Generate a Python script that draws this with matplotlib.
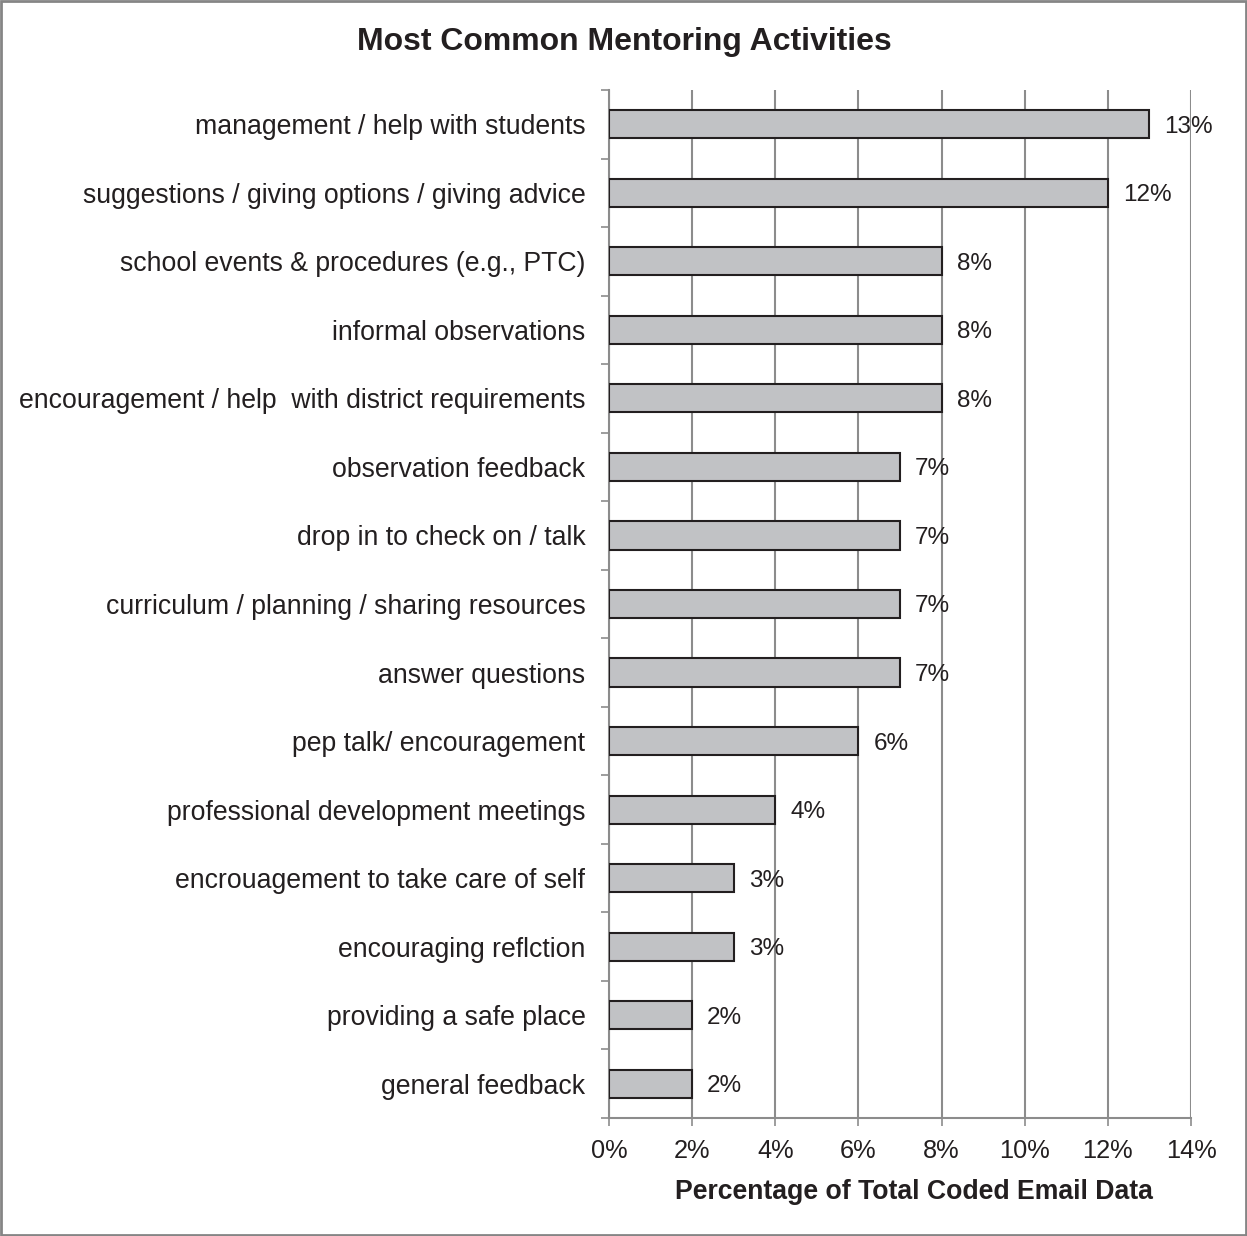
import matplotlib
matplotlib.use("Agg")
import matplotlib.pyplot as plt
from matplotlib.patches import Rectangle
from matplotlib.ticker import FixedLocator, PercentFormatter
import numpy as np

plt.rcParams['font.family'] = ['Liberation Sans', 'DejaVu Sans']

categories = [
    "management / help with students",
    "suggestions / giving options / giving advice",
    "school events & procedures (e.g., PTC)",
    "informal observations",
    "encouragement / help  with district requirements",
    "observation feedback",
    "drop in to check on / talk",
    "curriculum / planning / sharing resources",
    "answer questions",
    "pep talk/ encouragement",
    "professional development meetings",
    "encrouagement to take care of self",
    "encouraging reflction",
    "providing a safe place",
    "general feedback",
]
values = [13, 12, 8, 8, 8, 7, 7, 7, 7, 6, 4, 3, 3, 2, 2]
value_labels = ["13%", "12%", "8%", "8%", "8%", "7%", "7%", "7%", "7%", "6%", "4%", "3%", "3%", "2%", "2%"]
x_ticks = [0, 2, 4, 6, 8, 10, 12, 14]

text_color = "#231f20"
grid_color = "#8c8c8c"

fig = plt.figure(figsize=(12.47, 12.36), dpi=100)
ax = fig.add_axes([609/1247, 1 - 1118/1236, (1191-609)/1247, (1118-90)/1236])

y = np.arange(len(categories))
ax.barh(y, values, height=0.41, color="#c1c2c5", edgecolor=text_color, linewidth=1.5, zorder=3)
ax.set_ylim(len(categories) - 0.5, -0.5)
ax.set_xlim(0, 14)

for yi, v, lab in zip(y, values, value_labels):
    ax.annotate(lab, (v, yi), xytext=(15, 0), textcoords="offset pixels",
                va="center_baseline", ha="left", fontsize=17.5, color=text_color, zorder=4)

ax.set_yticks(y)
ax.set_yticklabels(categories, fontsize=19.2, color=text_color)
for t in ax.get_yticklabels():
    t.set_va("center_baseline")
ax.yaxis.set_minor_locator(FixedLocator(np.arange(-0.5, len(categories), 1.0)))
ax.tick_params(axis="y", which="major", length=0, pad=17)
ax.tick_params(axis="y", which="minor", length=6, width=1.2, color=grid_color, direction="out")

ax.set_xticks(x_ticks)
ax.xaxis.set_major_formatter(PercentFormatter(decimals=0))
ax.tick_params(axis="x", which="major", length=6, width=1.2, color=grid_color, labelsize=18.3,
               labelcolor=text_color, pad=9)
ax.xaxis.grid(True, color=grid_color, linewidth=1.5, zorder=0)
ax.set_axisbelow(True)

for s in ["top", "right"]:
    ax.spines[s].set_visible(False)
for s in ["left", "bottom"]:
    ax.spines[s].set_color(grid_color)
    ax.spines[s].set_linewidth(1.5)

ax.set_xlabel("Percentage of Total Coded Email Data", fontsize=19.2, fontweight="bold", color=text_color)
ax.xaxis.set_label_coords((914-609)/582, -(1192-1118)/1028)
ax.xaxis.label.set_va("center")

fig.text(624/1247, 1 - 42/1236, "Most Common Mentoring Activities", ha="center", va="center",
         fontsize=23, fontweight="bold", color=text_color)

fig.patches.append(Rectangle((0.001, 0.001), 0.998, 0.998, transform=fig.transFigure,
                             fill=False, edgecolor="#858585", linewidth=2))

fig.savefig("out.png", dpi=100)
